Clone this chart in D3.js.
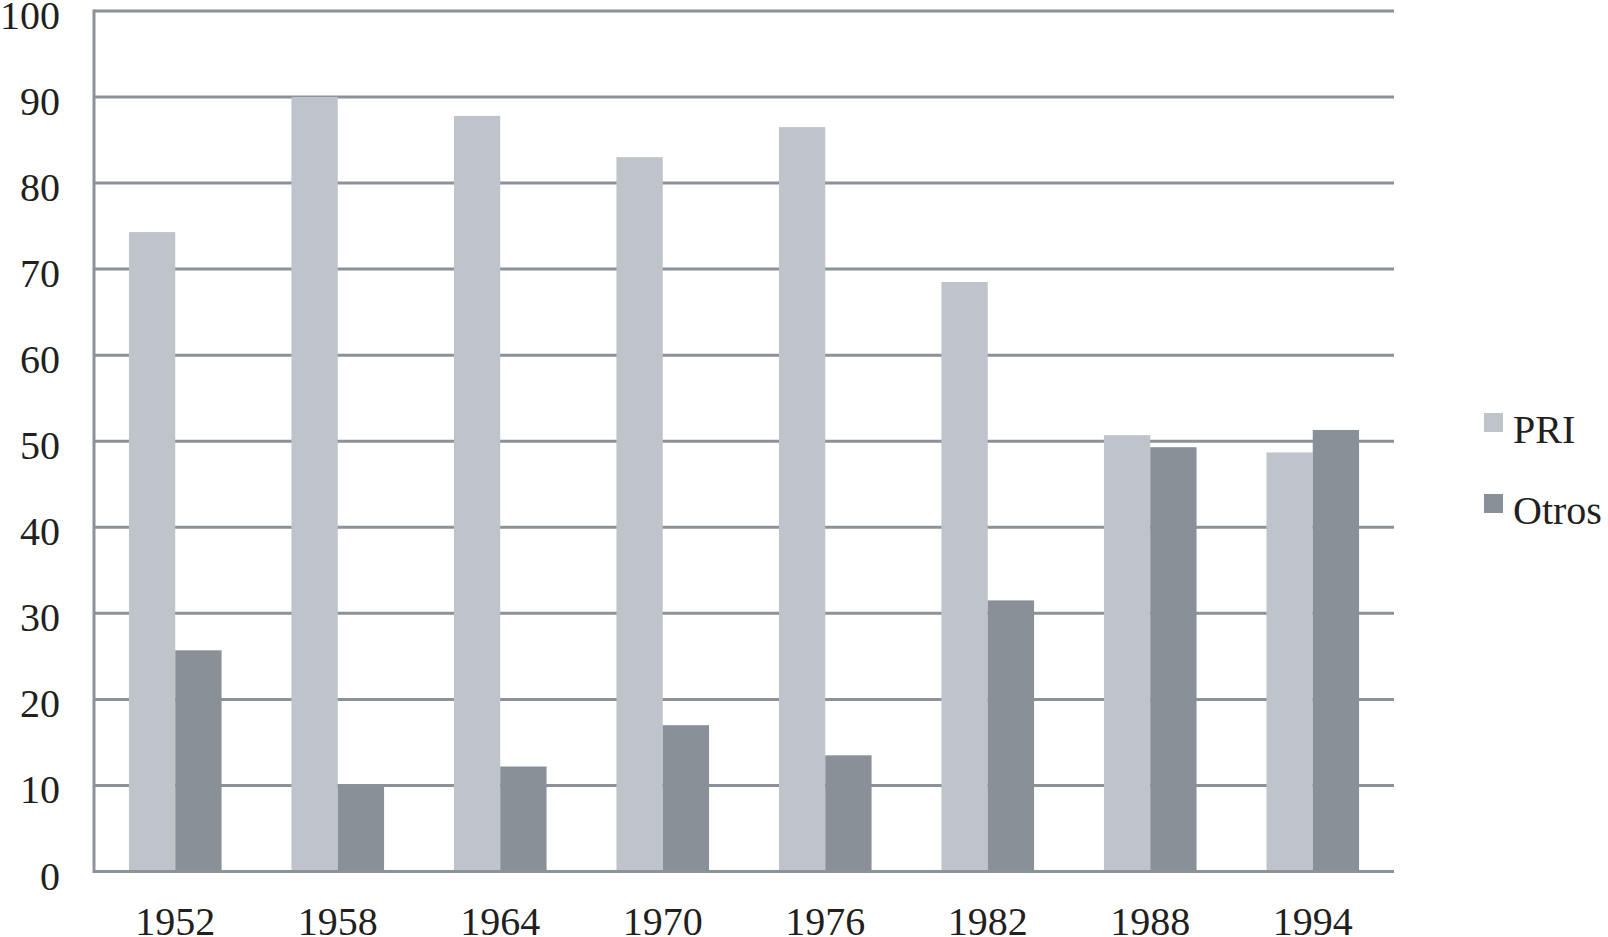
<!DOCTYPE html>
<html lang="es">
<head>
    <meta charset="UTF-8">
    <title>PRI vs Otros</title>
    <script src="https://d3js.org/d3.v7.min.js"></script>
    <style>
        body {
            margin: 0;
            background-color: #ffffff;
            overflow: hidden;
        }

        .label {
            font-family: "Liberation Serif", "Times New Roman", serif;
            font-size: 40px;
            fill: #231f20;
        }

        .grid line {
            stroke: #8b9299;
            stroke-width: 3;
        }
    </style>
</head>
<body>
    <div id="chart"></div>

    <script>
        // Data (percent of vote)
        const years = ["1952", "1958", "1964", "1970", "1976", "1982", "1988", "1994"];
        const series = ["PRI", "Otros"];
        const priValues = [74.3, 90.0, 87.8, 83.0, 86.5, 68.5, 50.7, 48.7];
        const otrosValues = [25.7, 10.0, 12.2, 17.0, 13.5, 31.5, 49.3, 51.3];
        const yTicks = [0, 10, 20, 30, 40, 50, 60, 70, 80, 90, 100];
        const colors = ["#bfc4cb", "#8a9097"];

        const width = 1608;
        const height = 937;

        const plotLeft = 94;
        const plotRight = 1394;
        const plotTop = 10.9;
        const plotBottom = 871.5;

        const svg = d3.select("#chart").append("svg")
            .attr("width", width)
            .attr("height", height);

        // Scales
        const x0 = d3.scaleBand()
            .domain(years)
            .range([plotLeft, plotRight])
            .paddingInner(0.43)
            .paddingOuter(0.215);

        const x1 = d3.scaleBand()
            .domain(series)
            .range([0, x0.bandwidth()])
            .padding(0);

        const y = d3.scaleLinear()
            .domain([0, 100])
            .range([plotBottom, plotTop]);

        // Horizontal gridlines
        svg.append("g")
            .attr("class", "grid")
            .selectAll("line")
            .data(yTicks)
            .enter().append("line")
            .attr("x1", plotLeft)
            .attr("x2", plotRight)
            .attr("y1", d => y(d))
            .attr("y2", d => y(d));

        // Bars
        const rows = years.map((yr, i) => ({ year: yr, values: [priValues[i], otrosValues[i]] }));

        const groups = svg.selectAll(".year")
            .data(rows)
            .enter().append("g")
            .attr("class", "year")
            .attr("transform", d => `translate(${x0(d.year)},0)`);

        groups.selectAll("rect")
            .data(d => d.values.map((v, j) => ({ key: series[j], value: v })))
            .enter().append("rect")
            .attr("x", d => x1(d.key))
            .attr("y", d => y(d.value))
            .attr("width", x1.bandwidth())
            .attr("height", d => plotBottom - y(d.value))
            .attr("fill", (d, j) => colors[j]);

        // Baseline and vertical axis line drawn over bars
        svg.append("line")
            .attr("x1", plotLeft).attr("x2", plotRight)
            .attr("y1", y(0)).attr("y2", y(0))
            .attr("stroke", "#8b9299").attr("stroke-width", 3);

        svg.append("line")
            .attr("x1", plotLeft).attr("x2", plotLeft)
            .attr("y1", y(100) - 1.5).attr("y2", y(0) + 1.5)
            .attr("stroke", "#8b9299").attr("stroke-width", 3);

        // Y tick labels
        svg.append("g")
            .selectAll("text")
            .data(yTicks)
            .enter().append("text")
            .attr("class", "label")
            .attr("x", 60)
            .attr("y", d => y(d) + 18)
            .attr("text-anchor", "end")
            .text(d => d);

        // X tick labels
        svg.append("g")
            .selectAll("text")
            .data(years)
            .enter().append("text")
            .attr("class", "label")
            .attr("x", d => x0(d) + x0.bandwidth() / 2)
            .attr("y", 935)
            .attr("text-anchor", "middle")
            .text(d => d);

        // Legend
        const legend = svg.append("g")
            .selectAll("g")
            .data(series)
            .enter().append("g")
            .attr("transform", (d, i) => `translate(1484,${413 + i * 81})`);

        legend.append("rect")
            .attr("width", 19)
            .attr("height", 19)
            .attr("fill", (d, i) => colors[i]);

        legend.append("text")
            .attr("class", "label")
            .attr("x", 29)
            .attr("y", 30)
            .text(d => d);
    </script>
</body>
</html>
